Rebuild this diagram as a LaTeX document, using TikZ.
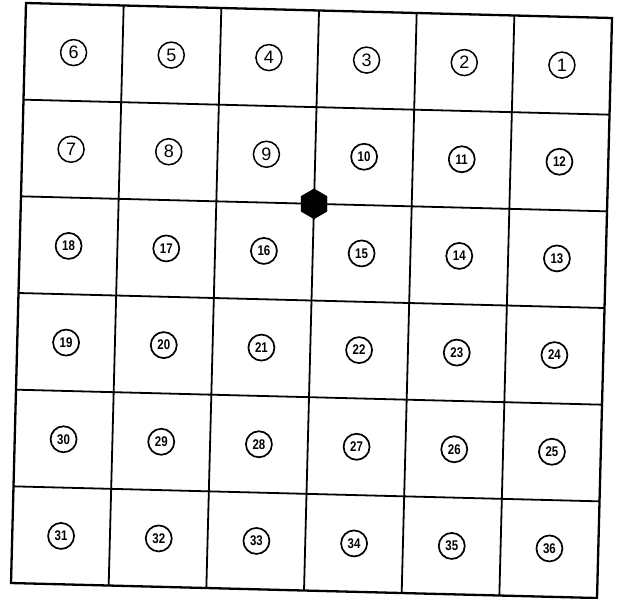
\documentclass[tikz,border=0pt]{standalone}
\usepackage{fontspec}
\usepackage{graphicx}
\setmainfont{Liberation Sans}
\usetikzlibrary{shapes.geometric}
\begin{document}
\begin{tikzpicture}[x=1pt,y=1pt,
  gridline/.style={line width=1.8pt},
  outline/.style={line width=2.3pt,line join=miter},
  numa/.style={circle,draw,line width=1.5pt,minimum size=26pt,inner sep=0pt,font=\fontsize{18}{18}\selectfont},
  numb/.style={circle,draw,line width=1.7pt,minimum size=26pt,inner sep=0pt,font=\fontsize{14}{14}\selectfont\bfseries},
  hub/.style={regular polygon,regular polygon sides=6,shape border rotate=30,fill=black,draw=black,minimum size=30pt,inner sep=0pt}
]
\useasboundingbox (0,0) rectangle (619,-599);
\begin{scope}[shift={(26,-3)}, x={(97.67pt,-2.5pt)}, y={(-2.5pt,-96.67pt)}]
  \foreach \i in {0,...,6} {
    \foreach \j in {0,...,6} {
      \coordinate (g-\i-\j) at (\i,\j);
    }
  }
  \foreach \k in {1,...,5} {
    \draw[gridline] (g-0-\k) -- (g-6-\k);
    \draw[gridline] (g-\k-0) -- (g-\k-6);
  }
  \draw[outline] (g-0-0) -- (g-6-0) -- (g-6-6) -- (g-0-6) -- cycle;
  \foreach \j in {0,...,5} {
    \foreach \i in {0,...,5} {
      \ifodd\j
        \pgfmathtruncatemacro\n{6*\j+\i+1}
      \else
        \pgfmathtruncatemacro\n{6*\j+6-\i}
      \fi
      \ifnum\n<10
        \node[numa] (c\n) at (\i+0.5,\j+0.5) {\n};
      \else
        \node[numb] (c\n) at (\i+0.5,\j+0.5) {\scalebox{0.82}[1]{\n}};
      \fi
    }
  }
  \node[hub] (hub) at (g-3-2) {};
\end{scope}
\end{tikzpicture}
\end{document}
